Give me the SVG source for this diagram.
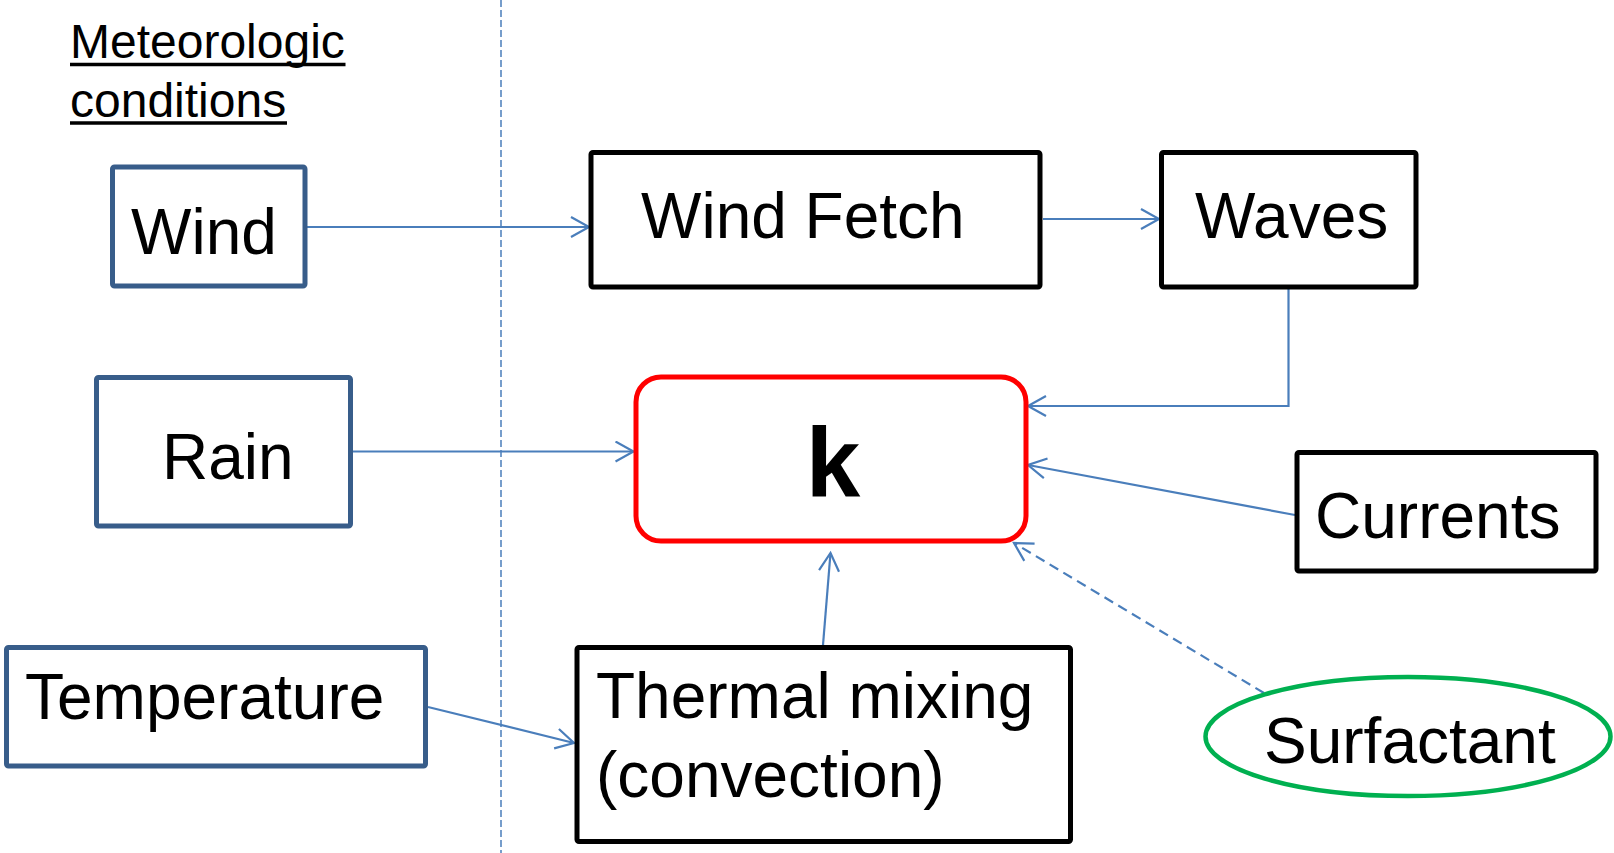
<svg xmlns="http://www.w3.org/2000/svg" width="1614" height="853" viewBox="0 0 1614 853">
<style>
  text { font-family: "Liberation Sans", Arial, sans-serif; fill: #000; }
  .lbl { font-size: 64px; }
  .hdr { font-size: 48px; }
  .ul { stroke: #000; stroke-width: 3.3; }
  .met { fill: #fff; stroke: #385D8A; stroke-width: 5; }
  .blk { fill: #fff; stroke: #000; stroke-width: 5; }
  .conn { fill: none; stroke: #4A7EBB; stroke-width: 2.2; }
</style>
<defs>
  <marker id="arr" markerUnits="userSpaceOnUse" viewBox="0 0 22 22" refX="19" refY="11" markerWidth="22" markerHeight="22" orient="auto">
    <path d="M1,1 L19,11 L1,21" fill="none" stroke="#4A7EBB" stroke-width="2.2"/>
  </marker>
</defs>
<rect width="1614" height="853" fill="#fff"/>
<line x1="501" y1="0" x2="501" y2="853" stroke="#4A7EBB" stroke-width="1.5" stroke-dasharray="7 3"/>
<g id="header">
  <text class="hdr" x="70" y="58">Meteorologic</text>
  <line class="ul" x1="70" y1="64.5" x2="345.5" y2="64.5"/>
  <text class="hdr" x="70" y="117">conditions</text>
  <line class="ul" x1="70" y1="123" x2="287" y2="123"/>
</g>
<g id="connectors">
  <line class="conn" x1="307" y1="227" x2="589" y2="227" marker-end="url(#arr)"/>
  <line class="conn" x1="1043" y1="219" x2="1159" y2="219" marker-end="url(#arr)"/>
  <polyline class="conn" points="1288.5,289 1288.5,406 1028,406" marker-end="url(#arr)"/>
  <line class="conn" x1="353" y1="451.5" x2="633.5" y2="451.5" marker-end="url(#arr)"/>
  <line class="conn" x1="1295" y1="515" x2="1028" y2="465" marker-end="url(#arr)"/>
  <line class="conn" x1="1264" y1="693" x2="1014" y2="543" stroke-dasharray="10 6" marker-end="url(#arr)"/>
  <line class="conn" x1="823" y1="645" x2="830.5" y2="553" marker-end="url(#arr)"/>
  <line class="conn" x1="428" y1="707" x2="574" y2="743" marker-end="url(#arr)"/>
</g>
<g id="wind">
  <rect class="met" x="112.5" y="167" width="192.5" height="119" rx="2"/>
  <text class="lbl" x="131" y="254">Wind</text>
</g>
<g id="rain">
  <rect class="met" x="96.5" y="377.5" width="254" height="148.5" rx="2"/>
  <text class="lbl" x="162" y="479">Rain</text>
</g>
<g id="temperature">
  <rect class="met" x="6.5" y="647.5" width="419" height="118.5" rx="2"/>
  <text class="lbl" x="25" y="719">Temperature</text>
</g>
<g id="windfetch">
  <rect class="blk" x="591" y="152.5" width="449" height="134.5" rx="2"/>
  <text class="lbl" x="641" y="238">Wind Fetch</text>
</g>
<g id="waves">
  <rect class="blk" x="1161.5" y="152.5" width="254.5" height="134.5" rx="2"/>
  <text class="lbl" x="1195" y="238">Waves</text>
</g>
<g id="k">
  <rect x="636" y="377" width="390" height="164" rx="25" fill="#fff" stroke="#FF0000" stroke-width="5"/>
  <text x="833" y="496" font-size="98" font-weight="bold" text-anchor="middle">k</text>
</g>
<g id="currents">
  <rect class="blk" x="1297" y="452.5" width="299" height="118.5" rx="2"/>
  <text class="lbl" x="1315" y="538">Currents</text>
</g>
<g id="thermal">
  <rect class="blk" x="577" y="647.5" width="493.5" height="194" rx="2"/>
  <text class="lbl" x="596" y="718">Thermal mixing</text>
  <text class="lbl" x="596" y="796.5">(convection)</text>
</g>
<g id="surfactant">
  <ellipse cx="1408" cy="736.5" rx="202.5" ry="59.5" fill="#fff" stroke="#00B050" stroke-width="4.5"/>
  <text class="lbl" x="1264" y="763">Surfactant</text>
</g>
</svg>
